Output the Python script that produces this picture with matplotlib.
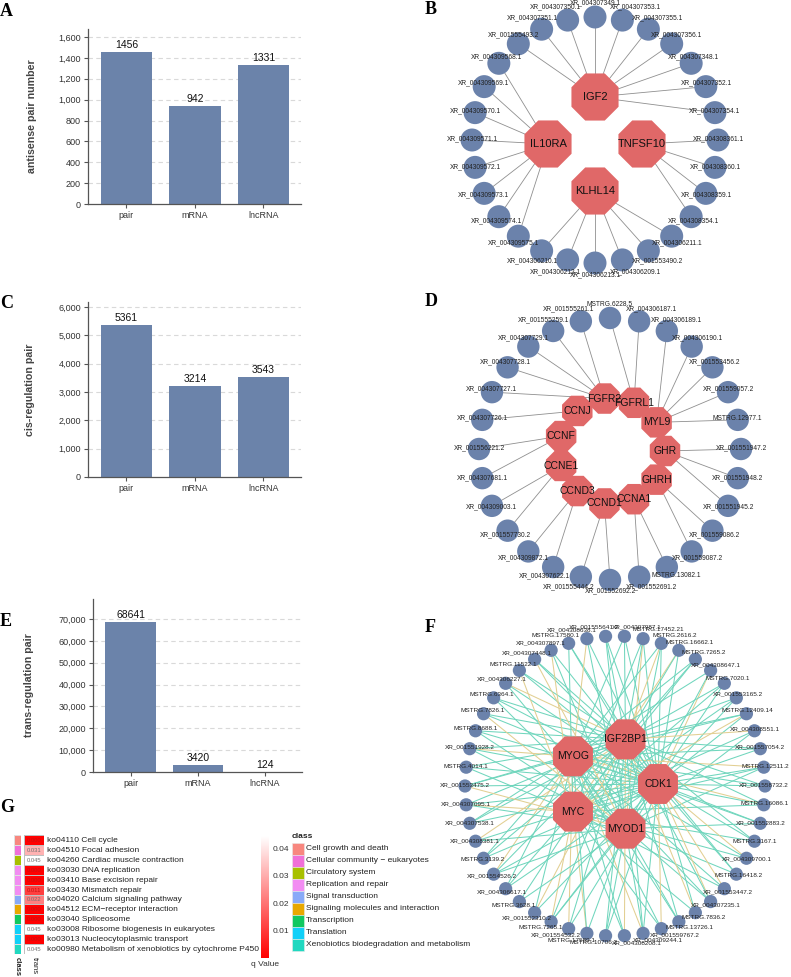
import numpy as np
import matplotlib.pyplot as plt
from matplotlib.patches import RegularPolygon, Circle, Rectangle
from matplotlib.ticker import FuncFormatter
from matplotlib.colors import LinearSegmentedColormap, ListedColormap, Normalize
from matplotlib.cm import ScalarMappable

plt.rcParams['font.family'] = ['Liberation Sans', 'DejaVu Sans']

# ---------------- data ----------------
cats = ['pair', 'mRNA', 'lncRNA']
antisense = [1456, 942, 1331]
cis_pairs = [5361, 3214, 3543]
trans_pairs = [68641, 3420, 124]

# B network
B_hubs = ['IGF2', 'IL10RA', 'KLHL14', 'TNFSF10']
B_outer = ['XR_004307349.1', 'XR_004307353.1', 'XR_004307355.1', 'XR_004307356.1',
           'XR_004307348.1', 'XR_004307352.1', 'XR_004307354.1', 'XR_004308361.1',
           'XR_004308360.1', 'XR_004308359.1', 'XR_004308354.1', 'XR_004306211.1',
           'XR_001553490.2', 'XR_004306209.1', 'XR_004306213.1', 'XR_004306212.1',
           'XR_004306210.1', 'XR_004309575.1', 'XR_004309574.1', 'XR_004309573.1',
           'XR_004309572.1', 'XR_004309571.1', 'XR_004309570.1', 'XR_004309569.1',
           'XR_004309568.1', 'XR_001555493.2', 'XR_004307351.1', 'XR_004307350.1']
B_edges = {
    'IGF2': ['XR_004307349.1', 'XR_004307353.1', 'XR_004307355.1', 'XR_004307356.1',
             'XR_004307348.1', 'XR_004307352.1', 'XR_004307354.1', 'XR_001555493.2',
             'XR_004307351.1', 'XR_004307350.1'],
    'TNFSF10': ['XR_004308361.1', 'XR_004308360.1', 'XR_004308359.1', 'XR_004308354.1'],
    'KLHL14': ['XR_004306211.1', 'XR_001553490.2', 'XR_004306209.1', 'XR_004306213.1',
               'XR_004306212.1', 'XR_004306210.1'],
    'IL10RA': ['XR_004309575.1', 'XR_004309574.1', 'XR_004309573.1', 'XR_004309572.1',
               'XR_004309571.1', 'XR_004309570.1', 'XR_004309569.1', 'XR_004309568.1'],
}

# D network
D_hubs = ['GHR', 'MYL9', 'FGFRL1', 'FGFR2', 'CCNJ', 'CCNF', 'CCNE1', 'CCND3',
          'CCND1', 'CCNA1', 'GHRH']
D_outer = ['MSTRG.6228.5', 'XR_004306187.1', 'XR_004306189.1', 'XR_004306190.1',
           'XR_001553456.2', 'XR_001559057.2', 'MSTRG.12977.1', 'XR_001551947.2',
           'XR_001551948.2', 'XR_001551945.2', 'XR_001559086.2', 'XR_001559087.2',
           'MSTRG.13082.1', 'XR_001552691.2', 'XR_001552692.2', 'XR_001555444.2',
           'XR_004307622.1', 'XR_004309872.1', 'XR_001557730.2', 'XR_004309003.1',
           'XR_004307681.1', 'XR_001556221.2', 'XR_004307726.1', 'XR_004307727.1',
           'XR_004307728.1', 'XR_004307729.1', 'XR_001555259.1', 'XR_001555261.1']
D_edges = {
    'FGFR2': ['XR_001555261.1', 'XR_001555259.1', 'XR_004307729.1', 'XR_004307728.1',
              'XR_004307727.1'],
    'FGFRL1': ['MSTRG.6228.5', 'XR_004306187.1'],
    'MYL9': ['XR_004306189.1', 'XR_004306190.1', 'XR_001553456.2', 'XR_001559057.2',
             'MSTRG.12977.1'],
    'GHR': ['XR_001551947.2', 'XR_001551948.2', 'XR_001551945.2'],
    'GHRH': ['XR_001559086.2', 'XR_001559087.2'],
    'CCNA1': ['MSTRG.13082.1', 'XR_001552691.2'],
    'CCND1': ['XR_001552692.2', 'XR_001555444.2'],
    'CCND3': ['XR_004307622.1', 'XR_004309872.1'],
    'CCNE1': ['XR_001557730.2', 'XR_004309003.1'],
    'CCNF': ['XR_004307681.1', 'XR_001556221.2'],
    'CCNJ': ['XR_004307726.1'],
}

# F network (hub codes: K=CDK1, G=IGF2BP1, O=MYOG, C=MYC, D=MYOD1)
F_hubs = ['CDK1', 'IGF2BP1', 'MYOG', 'MYC', 'MYOD1']
F_codes = {'K': 'CDK1', 'G': 'IGF2BP1', 'O': 'MYOG', 'C': 'MYC', 'D': 'MYOD1'}
F_outer = ['XR_001555641.2', 'XR_004307987.1', 'MSTRG.17452.21', 'MSTRG.2616.2',
           'MSTRG.16662.1', 'MSTRG.7265.2', 'XR_004308647.1', 'MSTRG.7020.1',
           'XR_001553165.2', 'MSTRG.12409.14', 'XR_004308551.1', 'XR_001557054.2',
           'MSTRG.12511.2', 'XR_001558732.2', 'MSTRG.16086.1', 'XR_001552883.2',
           'MSTRG.3167.1', 'XR_004309700.1', 'MSTRG.16418.2', 'XR_001553447.2',
           'XR_004307235.1', 'MSTRG.7836.2', 'MSTRG.13726.1', 'XR_001559767.2',
           'XR_004309244.1', 'XR_004308208.1', 'MSTRG.10706.2', 'MSTRG.17589.1',
           'XR_001554532.2', 'MSTRG.7265.1', 'XR_001552310.2', 'MSTRG.3628.1',
           'XR_004306617.1', 'XR_001554526.2', 'MSTRG.3139.2', 'XR_004308381.1',
           'XR_004307538.1', 'XR_004307095.1', 'XR_001553475.2', 'MSTRG.4014.1',
           'XR_001551928.2', 'MSTRG.8688.1', 'MSTRG.7826.1', 'MSTRG.6364.1',
           'XR_004306227.1', 'MSTRG.11522.1', 'XR_004307448.1', 'XR_004307897.1',
           'MSTRG.17580.1', 'XR_004308638.1']
F_teal = ['GKD', 'GOK', 'GCK', 'OKD', 'GK', 'GOC', 'OD', 'GCD', 'OKC', 'GOK',
          'CD', 'GOK', 'KCD', 'GOK', 'GKC', 'OKD', 'GCK', 'OC', 'GKD', 'OC',
          'GOD', 'CK', 'GOD', 'OC', 'GKD', 'OC', 'GKD', 'OD', 'GK', 'GKD',
          'OK', 'GD', 'OKC', 'GKD', 'GOK', 'KD', 'GOK', 'GKD', 'GOK', 'GKC',
          'GKD', 'GKD', 'GK', 'GKD', 'KD', 'GK', 'GK', 'KD', 'GKC', 'KD']
F_tan = ['', '', 'D', 'G', 'C', '', 'K', '', '', 'C',
         'G', '', 'O', '', 'O', '', '', 'K', '', 'K',
         'K', 'G', '', 'K', 'O', 'G', '', 'C', 'O', 'C',
         'G', '', '', 'O', '', 'G', '', 'C', 'D', '',
         'O', '', 'D', '', 'G', 'C', 'D', 'C', '', 'O']

# G enrichment
pathways = ['ko04110 Cell cycle', 'ko04510 Focal adhesion',
            'ko04260 Cardiac muscle contraction', 'ko03030 DNA replication',
            'ko03410 Base excision repair', 'ko03430 Mismatch repair',
            'ko04020 Calcium signaling pathway', 'ko04512 ECM\u2212receptor interaction',
            'ko03040 Spliceosome', 'ko03008 Ribosome biogenesis in eukaryotes',
            'ko03013 Nucleocytoplasmic transport',
            'ko00980 Metabolism of xenobiotics by cytochrome P450']
path_class = ['Cell growth and death', 'Cellular community \u2212 eukaryotes',
              'Circulatory system', 'Replication and repair', 'Replication and repair',
              'Replication and repair', 'Signal transduction',
              'Signaling molecules and interaction', 'Transcription', 'Translation',
              'Translation', 'Xenobiotics biodegradation and metabolism']
q_vals = [0.000, 0.031, 0.045, 0.000, 0.000, 0.011, 0.022, 0.000, 0.000, 0.045, 0.000, 0.045]
classes = ['Cell growth and death', 'Cellular community \u2212 eukaryotes',
           'Circulatory system', 'Replication and repair', 'Signal transduction',
           'Signaling molecules and interaction', 'Transcription', 'Translation',
           'Xenobiotics biodegradation and metabolism']
class_colors = ['#f8877f', '#f070d8', '#a8c000', '#f28cf2', '#88aaf8',
                '#e8a800', '#10c860', '#10d0f8', '#20d8c0']

# ---------------- figure ----------------
W, H = 791, 977
fig = plt.figure(figsize=(W / 100, H / 100), dpi=100)
BAR = '#6b83aa'
HUB = '#e06868'
NODE = '#6b82ab'


def px_axes(x0, y0, x1, y1):
    return fig.add_axes([x0 / W, 1 - y1 / H, (x1 - x0) / W, (y1 - y0) / H])


def bar_panel(box, vals, ymax, step, ytop, ylabel, labx):
    ax = px_axes(*box)
    x = np.arange(len(cats))
    ax.bar(x, vals, width=0.75, color=BAR, zorder=2)
    for xi, v in zip(x, vals):
        ax.annotate(str(v), (xi, v), xytext=(0, 1.2), textcoords='offset points',
                    ha='center', va='bottom', fontsize=7.5, color='#111')
    ax.set_xlim(-0.56, 2.55)
    ax.set_ylim(0, ytop)
    ticks = np.arange(0, ymax + 1, step)
    ax.set_yticks(ticks)
    ax.yaxis.set_major_formatter(FuncFormatter(lambda v, p: f'{int(v):,}'))
    ax.set_xticks(x, cats)
    for t in ticks[1:]:
        ax.axhline(t, color='#d9d9d9', lw=0.8, ls=(0, (4, 3)), zorder=1)
    for s in ['top', 'right']:
        ax.spines[s].set_visible(False)
    for s in ['left', 'bottom']:
        ax.spines[s].set_color('#555555')
        ax.spines[s].set_linewidth(0.9)
    ax.tick_params(labelsize=6.5, colors='#555555', labelcolor='#333333',
                   length=3, width=0.8, pad=2)
    ax.set_ylabel(ylabel, fontsize=7.7, fontweight='bold', color='#444444')
    ax.yaxis.set_label_coords(labx, 0.5)
    return ax


bar_panel((88, 29, 301, 204), antisense, 1600, 200, 1677, 'antisense pair number', -0.24)
bar_panel((88, 302, 301, 477), cis_pairs, 6000, 1000, 6176, 'cis-regulation pair', -0.25)
bar_panel((93, 599, 302, 772), trans_pairs, 70000, 10000, 79150, 'trans-regulation pair', -0.28)

# ---------------- G heatmap ----------------
n = len(pathways)
axc = px_axes(14, 835, 21, 954)
cls_idx = np.array([classes.index(c) for c in path_class])[:, None]
axc.pcolormesh(cls_idx, cmap=ListedColormap(class_colors), vmin=-0.5,
               vmax=len(classes) - 0.5, edgecolors='#e0e0e0', linewidth=0.4)
axc.set_ylim(n, 0)
axc.axis('off')

qcmap = LinearSegmentedColormap.from_list('q', ['#ff0000', '#ffffff'])
qnorm = Normalize(0, 0.0445)
axt = px_axes(24, 835, 44, 954)
axt.pcolormesh(np.array(q_vals)[:, None], cmap=qcmap, norm=qnorm,
               edgecolors='#c0c0c0', linewidth=0.5)
axt.set_ylim(n, 0)
axt.set_xlim(0, 1)
axt.axis('off')
for i, (q, name) in enumerate(zip(q_vals, pathways)):
    axt.text(0.5, i + 0.55, f'{q:.3f}', ha='center', va='center', fontsize=4.2,
             color='#c41010' if q < 0.015 else '#707070')
    axt.text(1.15, i + 0.55, name, ha='left', va='center', fontsize=6, color='#222222',
             clip_on=False)
fig.text(17.5 / W, 1 - 957 / H, 'class', rotation=270, ha='center', va='top',
         fontsize=5.5, fontweight='bold', color='#222222')
fig.text(34 / W, 1 - 957 / H, 'trans', rotation=270, ha='center', va='top',
         fontsize=5.5, color='#222222')

cax = px_axes(261, 836, 269, 958)
cb = fig.colorbar(ScalarMappable(norm=qnorm, cmap=qcmap), cax=cax,
                  ticks=[0.01, 0.02, 0.03, 0.04])
cb.outline.set_visible(False)
cax.tick_params(labelsize=6, length=0, pad=2.5, labelcolor='#333333')
fig.text(265 / W, 1 - 964 / H, 'q Value', ha='center', va='center', fontsize=6,
         color='#333333')

# ---------------- overlay in pixel coords ----------------
ov = fig.add_axes([0, 0, 1, 1])
ov.set_xlim(0, W)
ov.set_ylim(H, 0)
ov.axis('off')

ov.text(292, 837, 'class', fontsize=6, fontweight='bold', va='center', ha='left',
        color='#222222')
for i, (c, col) in enumerate(zip(classes, class_colors)):
    ov.add_patch(Rectangle((292, 843 + 12 * i), 12, 11.5, fc=col, ec='#e8e8e8', lw=0.4))
    ov.text(306, 849 + 12 * i, c, fontsize=6, va='center', ha='left', color='#222222')


def circle_pos(cx, cy, r, count, start, cw):
    sgn = -1 if cw else 1
    ang = np.deg2rad(start + sgn * 360.0 * np.arange(count) / count)
    return cx + r * np.cos(ang), cy - r * np.sin(ang), ang


def network(hubs, outer, edges, hc, hr, hstart, oc, orr, ostart, node_r, oct_r,
            hub_fs, lab_fs, lw, kx, ky, xmax=W - 2):
    hx, hy, _ = circle_pos(hc[0], hc[1], hr, len(hubs), hstart, False)
    ox, oy, oa = circle_pos(oc[0], oc[1], orr, len(outer), ostart, True)
    hp = {h: (x, y) for h, x, y in zip(hubs, hx, hy)}
    op = {o: (x, y) for o, x, y in zip(outer, ox, oy)}
    for h, o, col in edges:
        ov.plot([hp[h][0], op[o][0]], [hp[h][1], op[o][1]], color=col, lw=lw,
                zorder=1, solid_capstyle='butt')
    for o, a in zip(outer, oa):
        ov.add_patch(Circle(op[o], node_r, fc=NODE, ec='none', zorder=2))
        # labels pushed outward near the top and bottom of the ring
        dx = kx * np.sign(np.cos(a)) * np.sin(a) ** 4 * min(1, abs(np.cos(a)) * 12)
        dy = -ky * np.sin(a) * abs(np.sin(a)) - 1
        tx = op[o][0] + dx
        t = ov.text(tx, op[o][1] + dy, o, fontsize=lab_fs, ha='center',
                    va='center', color='#222222', zorder=4)
        if tx + 26 > xmax:
            t.set_ha('right')
            t.set_x(xmax)
    for h in hubs:
        ov.add_patch(RegularPolygon(hp[h], numVertices=8, radius=oct_r,
                                    orientation=np.pi / 8, fc=HUB, ec='none', zorder=3))
        ov.text(hp[h][0], hp[h][1], h, fontsize=hub_fs, ha='center', va='center',
                color='#111111', zorder=5)


GRAY = '#8f8f8f'
b_list = [(h, o, GRAY) for h, nodes in B_edges.items() for o in nodes]
network(B_hubs, B_outer, b_list, (595, 144), 47, 90, (595, 140), 123, 90,
        11.5, 25.5, 8, 4.8, 0.6, 14, 13)

d_list = [(h, o, GRAY) for h, nodes in D_edges.items() for o in nodes]
network(D_hubs, D_outer, d_list, (612, 451), 53, 0, (610, 449), 131, 90,
        11.2, 16.5, 7.5, 4.8, 0.6, 14, 12)

f_list = []
for o, t, y in zip(F_outer, F_teal, F_tan):
    f_list += [(F_codes[k], o, '#e2cf92') for k in y]
    f_list += [(F_codes[k], o, '#70d6bd') for k in t]
network(F_hubs, F_outer, f_list, (611, 784), 47, 0, (615, 786), 150, 93.6,
        6.6, 21.6, 7.5, 4.6, 0.75, 16, 8)

# panel letters
for letter, x, y in [('A', 0, 11), ('B', 425, 10), ('C', 0, 303), ('D', 425, 302),
                     ('E', 0, 622), ('F', 425, 627), ('G', 0, 807)]:
    fig.text(x / W, 1 - y / H, letter, fontsize=13, fontweight='bold',
             family='Liberation Serif', ha='left', va='center')

fig.savefig('out.png', dpi=100)
